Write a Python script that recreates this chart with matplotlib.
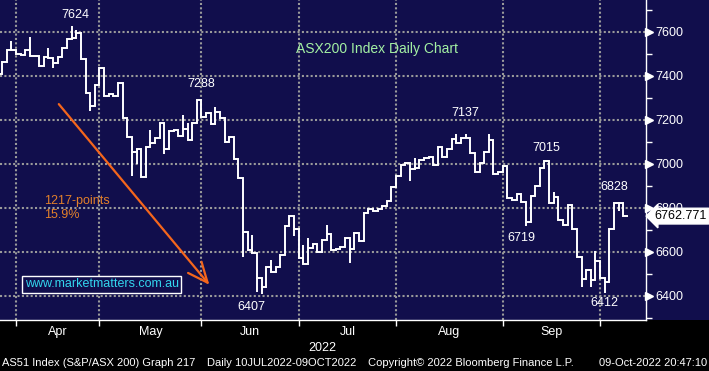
import matplotlib
matplotlib.use("Agg")
import matplotlib.pyplot as plt
import matplotlib.transforms as mtransforms
from matplotlib.patches import Rectangle
import numpy as np

plt.rcParams['font.family'] = ['Liberation Sans', 'DejaVu Sans']

# daily closes, index 0 = last days of March 2022
closes = [7409, 7464, 7518, 7518, 7500, 7495, 7518, 7491, 7491, 7445,
          7486, 7482, 7459, 7486, 7527, 7568, 7573, 7595, 7477, 7323,
          7264, 7359, 7436, 7309, 7318, 7309, 7368, 7209, 7123, 7055,
          7068, 6941, 7077, 7095, 7118, 7186, 7068, 7150, 7155, 7127,
          7159, 7109, 7186, 7291, 7214, 7232, 7182, 7236, 7209, 7100,
          7123, 7023, 6936, 6691, 6609, 6595, 6482, 6441, 6532, 6509,
          6532, 6586, 6718, 6764, 6705, 6573, 6545, 6618, 6636, 6600,
          6655, 6682, 6609, 6614, 6623, 6664, 6614, 6686, 6650, 6777,
          6795, 6786, 6795, 6809, 6832, 6895, 6945, 6995, 7005, 6977,
          6982, 7018, 7027, 7032, 6995, 7077, 7032, 7068, 7114, 7095,
          7118, 7118, 7050, 6964, 7005, 7055, 7109, 6955, 6964, 6991,
          6845, 6836, 6864, 6827, 6736, 6855, 6900, 6982, 7014, 6823,
          6850, 6745, 6723, 6814, 6705, 6577, 6477, 6518, 6473, 6559,
          6482, 6464, 6705, 6823, 6820, 6763]

# intraday highs / lows that stick out of the step line
highs = {3: 7560, 7: 7577, 11: 7527, 16: 7624, 17: 7609, 33: 7155,
         40: 7223, 41: 7186, 43: 7288, 47: 7259, 55: 6677, 59: 6564,
         66: 6632, 67: 6664, 71: 6723, 90: 7027, 99: 7136, 101: 7137,
         106: 7136, 120: 6870, 129: 6605, 134: 6828}
lows = {12: 7436, 20: 7241, 29: 6945, 30: 7000, 36: 7045, 53: 6577,
        56: 6418, 57: 6407, 64: 6673, 76: 6550, 89: 6923, 114: 6719,
        126: 6441, 128: 6441, 131: 6412, 134: 6786}

month_names = ['Apr', 'May', 'Jun', 'Jul', 'Aug', 'Sep']
month_starts = [4, 22, 44, 65, 86, 109, 130]   # first day of Apr .. Oct

marked_idx = [16, 43, 101, 118, 134, 57, 114, 131]
marked_vals = [7624, 7288, 7137, 7015, 6828, 6407, 6719, 6412]
last_price = 6762.771

# label offsets in pixels (layout only)
mark_offsets = [(4, 11), (4, 16), (0, 21), (2, 13), (-4, 15),
                (-10, -13), (-5, -12), (0, -10)]

NAVY = '#110e4c'
GRID = '#9a9a9a'

fig = plt.figure(figsize=(7.09, 3.71), dpi=100, facecolor='black')
fig.add_artist(Rectangle((0, 51 / 371), 1, 1, transform=fig.transFigure,
                         facecolor=NAVY, edgecolor='none', zorder=-10))
ax = fig.add_axes([0, 51 / 371, 645.5 / 709, 320 / 371])
ax.set_facecolor(NAVY)

n = len(closes)
ax.stairs(closes, np.arange(n + 1), baseline=None, color='white', lw=1.4, zorder=3)
for i, h in highs.items():
    ax.vlines(i, closes[i], h, color='white', lw=1.4, zorder=3)
for i, l in lows.items():
    ax.vlines(i, l, closes[i], color='white', lw=1.4, zorder=3)

ax.set_xlim(0.55, 139.8)
ax.set_ylim(6291, 7744)

for v in range(6400, 7601, 200):
    ax.axhline(v, color=GRID, lw=1.5, dashes=(1, 1.1), zorder=1)
for m in month_starts:
    ax.axvline(m, color=GRID, lw=1.5, dashes=(1, 1.1), zorder=1)

# right axis
ax.yaxis.tick_right()
ax.set_yticks(range(6400, 7601, 200))
ax.set_yticks(range(6300, 7701, 200), minor=True)
ax.tick_params(axis='y', which='major', length=0, pad=7, labelcolor='white', labelsize=9)
ax.tick_params(axis='y', which='minor', length=4, width=1, color='white')
tri = mtransforms.blended_transform_factory(ax.transAxes, ax.transData)
ax.plot([1.0 + 3.8 / 645.5] * 7, list(range(6400, 7601, 200)), '>', color='white',
        markersize=5.5, transform=tri, clip_on=False, zorder=5)

# bottom axis
centers = [(a + b) / 2 for a, b in zip(month_starts[:-1], month_starts[1:])]
ax.set_xticks(month_starts)
ax.set_xticklabels([])
ax.set_xticks(centers, minor=True)
ax.set_xticklabels(month_names, minor=True)
ax.tick_params(axis='x', which='major', length=4, width=1, color='white')
ax.tick_params(axis='x', which='minor', length=0, pad=4.5, labelcolor='white', labelsize=9)

for s in ['top', 'left']:
    ax.spines[s].set_visible(False)
for s in ['right', 'bottom']:
    ax.spines[s].set_color('white')
    ax.spines[s].set_linewidth(1)

ax.text(0.5, -0.086, '2022', transform=ax.transAxes, ha='center', va='center',
        color='white', fontsize=9, clip_on=False)

ax.text(0.584, 0.847, 'ASX200 Index Daily Chart', transform=ax.transAxes,
        ha='center', va='center', color='#a3f0a3', fontsize=10)

for i, v, (dx, dy) in zip(marked_idx, marked_vals, mark_offsets):
    ax.annotate(str(v), xy=(i, v), xytext=(dx, dy), textcoords='offset pixels',
                ha='center', va='center', color='white', fontsize=9, zorder=6)

ax.annotate('', xy=(46.1, 6441), xytext=(12.85, 7281),
            arrowprops=dict(arrowstyle='->,head_length=0.8,head_width=0.35',
                            color='#f4661c', lw=1.6, mutation_scale=18), zorder=4)
ax.text(0.068, 0.39, '1217-points\n15.9%', transform=ax.transAxes,
        ha='left', va='top', color='#e3802a', fontsize=9, linespacing=1.2)

ax.text(0.158, 0.111, 'www.marketmatters.com.au', transform=ax.transAxes,
        ha='center', va='center', color='#33d6ee', fontsize=9,
        bbox=dict(boxstyle='square,pad=0.2', fc=NAVY, ec='white', lw=1))

ax.text(1.0 + 9 / 645.5, last_price, '%.3f' % last_price, transform=tri,
        ha='left', va='center', color='black', fontsize=9, clip_on=False, zorder=7,
        bbox=dict(boxstyle='larrow,pad=0.15', fc='white', ec='white'))

fy = 1 - 363 / 371
fig.text(2 / 709, fy, 'AS51 Index (S&P/ASX 200) Graph 217', color='white', fontsize=8, va='center')
fig.text(207 / 709, fy, 'Daily 10JUL2022-09OCT2022', color='white', fontsize=8, va='center')
fig.text(368 / 709, fy, 'Copyright\u00a9 2022 Bloomberg Finance L.P.', color='white', fontsize=8, va='center')
fig.text(707 / 709, fy, '09-Oct-2022 20:47:10', color='white', fontsize=8, va='center', ha='right')

fig.savefig('out.png', dpi=100, facecolor=fig.get_facecolor())
